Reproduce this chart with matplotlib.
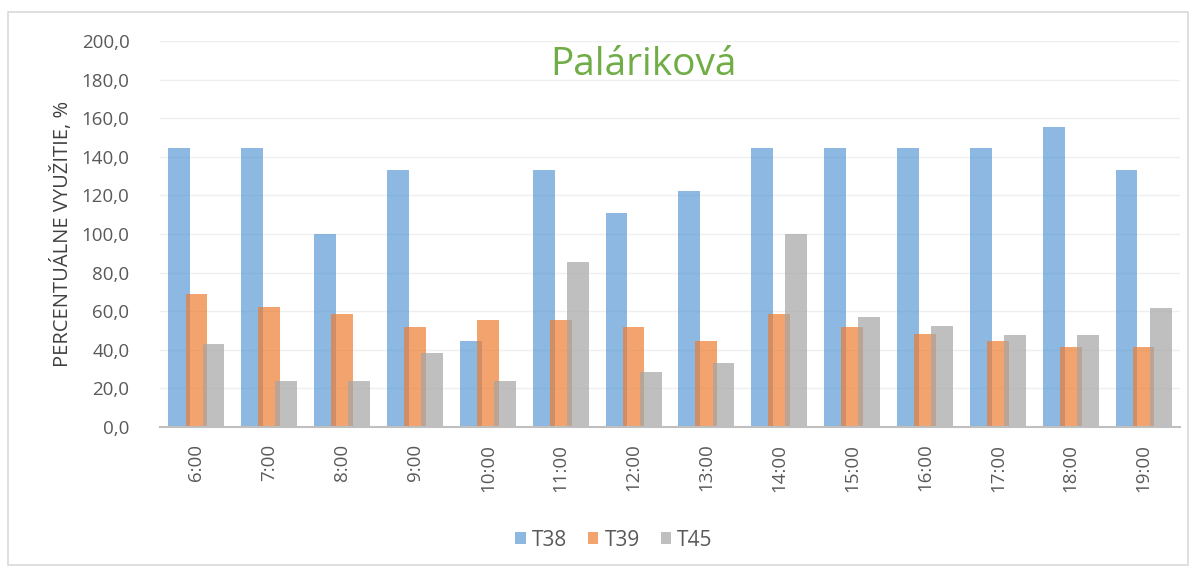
import numpy as np
from matplotlib import pyplot as plt
from matplotlib.patches import Rectangle

plt.rcParams['font.family'] = ['Open Sans', 'DejaVu Sans']

hours: list = ['6:00', '7:00', '8:00', '9:00', '10:00', '11:00', '12:00',
               '13:00', '14:00', '15:00', '16:00', '17:00', '18:00', '19:00']

t38: list = [144.4, 144.4, 100.0, 133.3, 44.4, 133.3, 111.1,
             122.2, 144.4, 144.4, 144.4, 144.4, 155.6, 133.3]
t39: list = [69.0, 62.1, 58.6, 51.7, 55.2, 55.2, 51.7,
             44.8, 58.6, 51.7, 48.3, 44.8, 41.4, 41.4]
t45: list = [42.9, 23.8, 23.8, 38.1, 23.8, 85.7, 28.6,
             33.3, 100.0, 57.1, 52.4, 47.6, 47.6, 61.9]

series: list = [('T38', t38, '#5B9BD5'), ('T39', t39, '#ED7D31'), ('T45', t45, '#A5A5A5')]

fig = plt.figure(figsize=(11.96, 5.69), dpi=100)
ax = fig.add_axes([160 / 1196, 1 - 427 / 569, 1020 / 1196, (427 - 41) / 569])

x = np.arange(len(hours))
width = 0.30
step = 0.235

for i, (name, vals, col) in enumerate(series):
    ax.bar(x + (i - 1) * step, vals, width, color=col, alpha=0.7, label=name,
           linewidth=0, zorder=2)

ax.set_xlim(-0.5, len(hours) - 0.5)
ax.set_ylim(0, 200)
ax.set_yticks(np.arange(0, 201, 20))
ax.set_yticklabels(['{:.1f}'.format(v).replace('.', ',') for v in np.arange(0, 201, 20)])
ax.set_xticks(x)
ax.set_xticklabels(hours, rotation=90)
ax.tick_params(axis='both', length=0, labelsize=13.5, colors='#595959')
ax.tick_params(axis='x', pad=12)
ax.tick_params(axis='y', pad=22)
ax.grid(axis='y', color='#EFEFEF', linewidth=1, zorder=0)
ax.set_axisbelow(True)
for s in ['top', 'right', 'left']:
    ax.spines[s].set_visible(False)
ax.spines['bottom'].set_color('#BFBFBF')
ax.spines['bottom'].set_linewidth(1.5)

ax.set_ylabel('PERCENTUÁLNE VYUŽITIE, %', fontsize=14.5, color='#404040', labelpad=6)
fig.text(643 / 1196, 1 - 65 / 569, 'Paláriková', ha='center', va='center',
         fontsize=28, color='#70AD47')

fig.legend(loc='center', bbox_to_anchor=(614 / 1196, 1 - 540 / 569), ncol=3,
           frameon=False, fontsize=15, labelcolor='#595959', handlelength=0.5,
           handleheight=0.5, handletextpad=0.3, columnspacing=1.0)

fig.patches.append(Rectangle((8 / 1196, 1 - 565 / 569), 1180 / 1196, 553 / 569,
                             transform=fig.transFigure, fill=False,
                             edgecolor='#D9D9D9', linewidth=1.2))

fig.savefig('out.png', dpi=100)
